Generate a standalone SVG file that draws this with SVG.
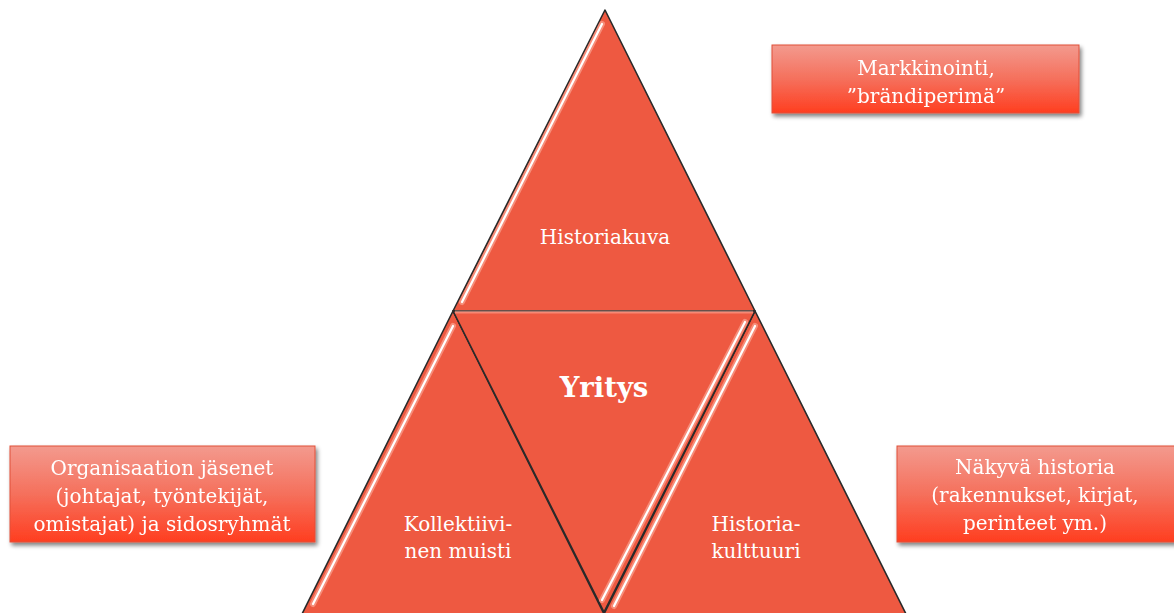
<svg xmlns="http://www.w3.org/2000/svg" width="1174" height="613" viewBox="0 0 1174 613">
<style>
.tri{fill:#EE5941;stroke:#2a2a2a;stroke-width:1.6;stroke-linejoin:round}
.hl{stroke:#ffffff;stroke-width:2.2;fill:none;stroke-linecap:round}
.hlg{stroke:#ffb8a8;stroke-width:6;fill:none;opacity:0.55;stroke-linecap:round}
.t{font-family:"DejaVu Serif","Liberation Serif",serif;fill:#ffffff;text-anchor:middle}
.tt{font-size:20px}
.bt{font-size:20px}
.box{fill:url(#bg);stroke:#e0503a;stroke-width:1}
</style>
<defs>
<linearGradient id="bg" x1="0" y1="0" x2="0" y2="1">
<stop offset="0" stop-color="#F39A8E"/>
<stop offset="0.5" stop-color="#F5705C"/>
<stop offset="1" stop-color="#FF3E20"/>
</linearGradient>
<filter id="sh" x="-10%" y="-10%" width="130%" height="140%">
<feGaussianBlur in="SourceAlpha" stdDeviation="2"/>
<feOffset dx="2" dy="3"/>
<feComponentTransfer><feFuncA type="linear" slope="0.5"/></feComponentTransfer>
<feMerge><feMergeNode/><feMergeNode in="SourceGraphic"/></feMerge>
</filter>
</defs>
<rect width="1174" height="613" fill="#ffffff"/>
<g id="connectors"></g>
<g id="top-triangle">
<path class="tri" d="M605,10 L453,311 L755,311 Z"/>
<line class="hlg" x1="602" y1="24" x2="462" y2="302"/>
<line class="hl" x1="602" y1="24" x2="462" y2="302"/>
<text class="t tt" x="605" y="244">Historiakuva</text>
</g>
<g id="left-triangle">
<path class="tri" d="M453,311 L302,614 L604,614 Z"/>
<line class="hlg" x1="453" y1="326" x2="313" y2="604"/>
<line class="hl" x1="453" y1="326" x2="313" y2="604"/>
<text class="t tt" x="458" y="531">Kollektiivi-</text>
<text class="t tt" x="458" y="558">nen muisti</text>
</g>
<g id="right-triangle">
<path class="tri" d="M755,311 L604,614 L906,614 Z"/>
<line class="hlg" x1="755" y1="326" x2="614" y2="606"/>
<line class="hl" x1="755" y1="326" x2="614" y2="606"/>
<text class="t tt" x="756" y="531">Historia-</text>
<text class="t tt" x="756" y="558">kulttuuri</text>
</g>
<g id="center-triangle">
<path class="tri" d="M453,311 L755,311 L604,612 Z"/>
<line class="hlg" x1="745" y1="322" x2="602" y2="600"/>
<line class="hl" x1="745" y1="322" x2="602" y2="600"/>
<path d="M455,312 L753,312" stroke="#ffb8a8" stroke-width="3" opacity="0.5" fill="none"/>
<text class="t" x="604" y="397" font-size="27.5" font-weight="bold">Yritys</text>
</g>
<g id="box-markkinointi" filter="url(#sh)">
<rect class="box" x="772" y="45" width="307" height="68"/>
<text class="t bt" x="926" y="75">Markkinointi,</text>
<text class="t bt" x="926" y="103">”brändiperimä”</text>
</g>
<g id="box-organisaatio" filter="url(#sh)">
<rect class="box" x="10" y="446" width="305" height="96"/>
<text class="t bt" x="162" y="475">Organisaation jäsenet</text>
<text class="t bt" x="162" y="503">(johtajat, työntekijät,</text>
<text class="t bt" x="162" y="531">omistajat) ja sidosryhmät</text>
</g>
<g id="box-nakyva" filter="url(#sh)">
<rect class="box" x="897" y="446" width="282" height="96"/>
<text class="t bt" x="1035" y="474">Näkyvä historia</text>
<text class="t bt" x="1035" y="502">(rakennukset, kirjat,</text>
<text class="t bt" x="1035" y="530">perinteet ym.)</text>
</g>
</svg>
